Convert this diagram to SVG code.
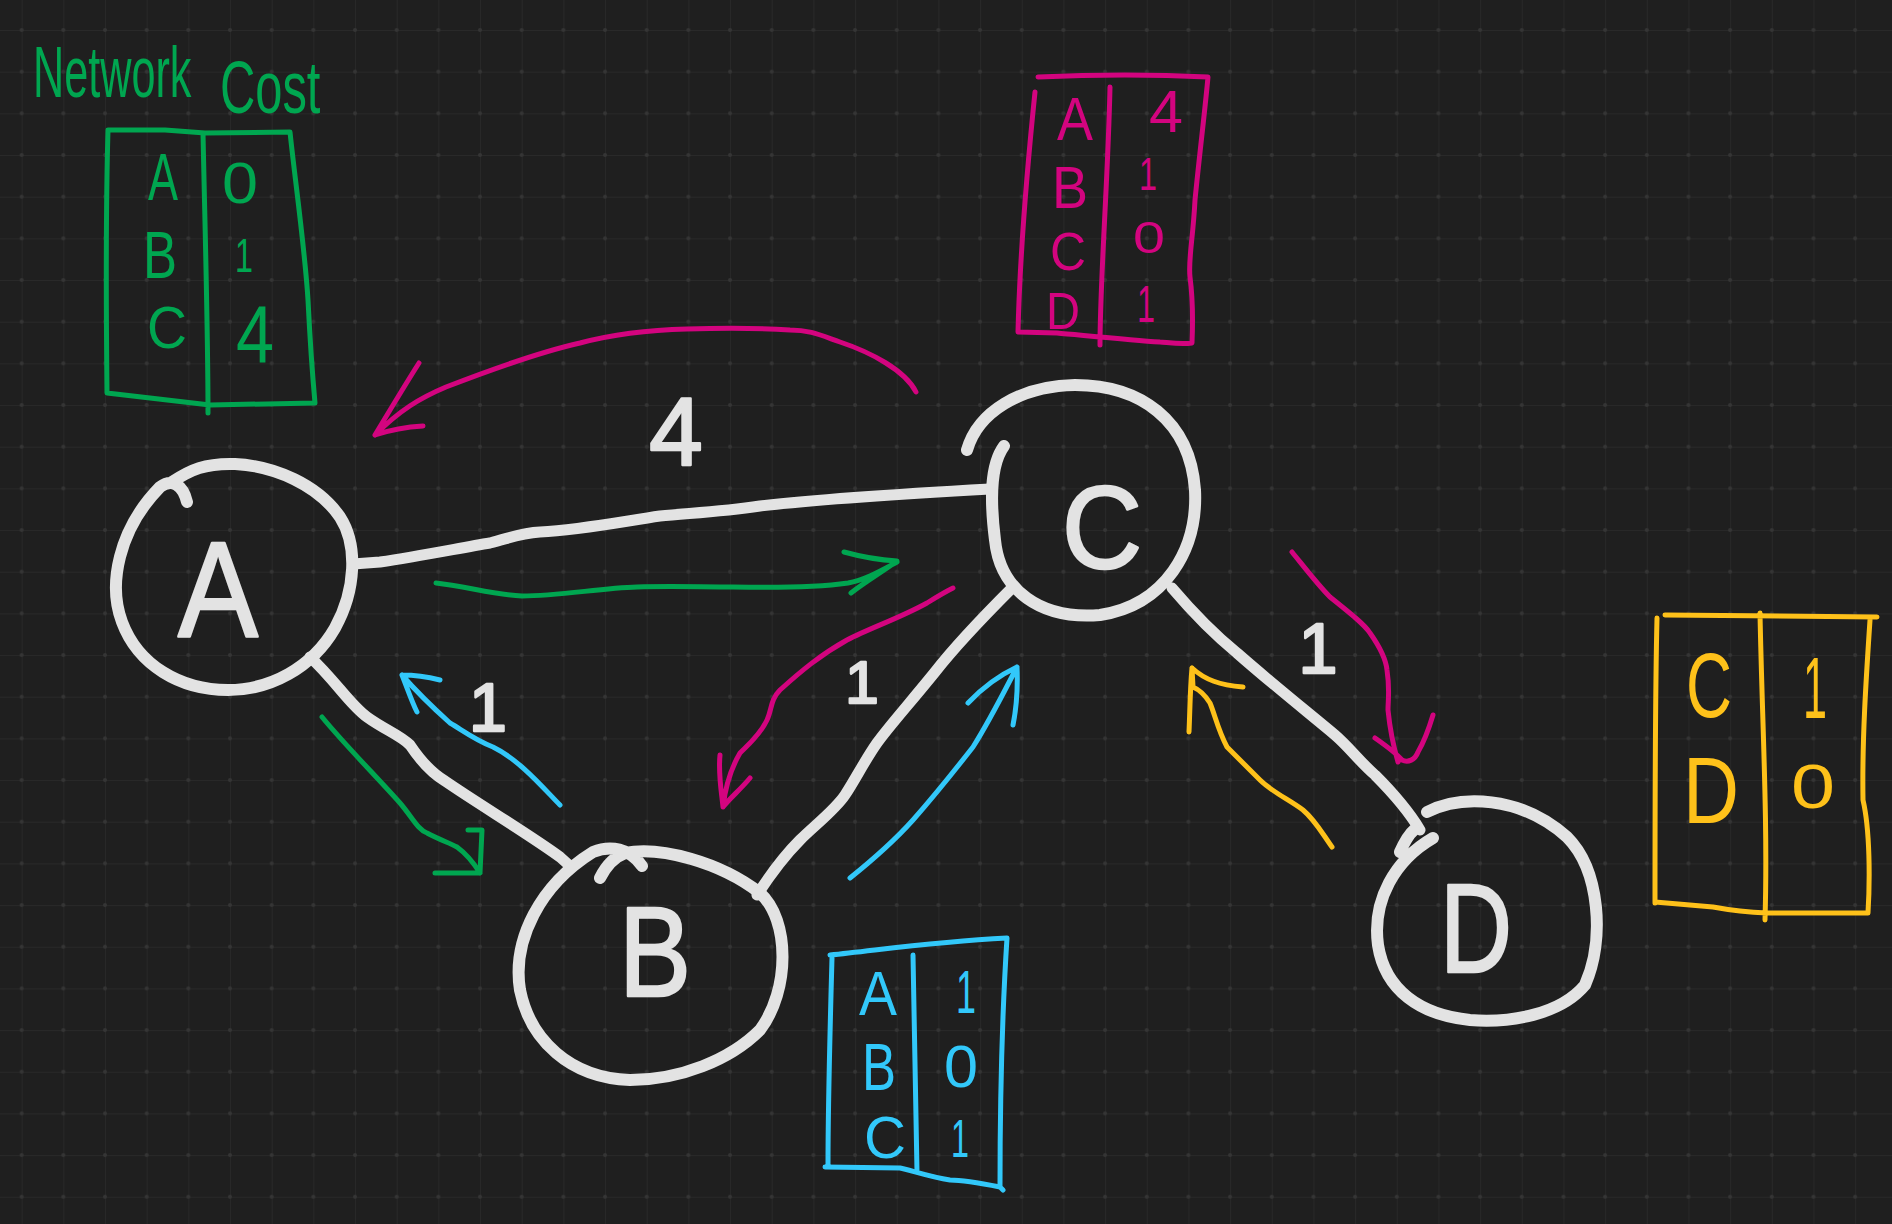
<svg xmlns="http://www.w3.org/2000/svg" width="1892" height="1224" viewBox="0 0 1892 1224">
<defs>
<pattern id="grid" patternUnits="userSpaceOnUse" x="21.67" y="30" width="41.67" height="41.67">
<path d="M0,0 H41.67 M0,0 V41.67" stroke="#2b2b2b" stroke-width="1.5" fill="none"/>
<circle cx="0" cy="0" r="2" fill="#353535"/>
<circle cx="41.67" cy="0" r="2" fill="#353535"/>
<circle cx="0" cy="41.67" r="2" fill="#353535"/>
<circle cx="41.67" cy="41.67" r="2" fill="#353535"/>
</pattern>
<style>
.w{fill:none;stroke:#e3e3e3;stroke-linecap:round;stroke-linejoin:round}
.node{stroke-width:12}
.edge{stroke-width:11}
.g{fill:none;stroke:#00a650;stroke-width:5;stroke-linecap:round;stroke-linejoin:round}
.m{fill:none;stroke:#d3047f;stroke-width:5;stroke-linecap:round;stroke-linejoin:round}
.c{fill:none;stroke:#32c8fa;stroke-width:5;stroke-linecap:round;stroke-linejoin:round}
.y{fill:none;stroke:#fec11a;stroke-width:5;stroke-linecap:round;stroke-linejoin:round}
text{font-family:"Liberation Sans",Arial,sans-serif;text-anchor:middle}
.wt{fill:#e3e3e3;stroke:#e3e3e3;stroke-width:2.5;stroke-linejoin:round}
.gt{fill:#00a650}
.mt{fill:#d3047f}
.ct{fill:#32c8fa}
.yt{fill:#fec11a}
</style>
</defs>
<rect width="1892" height="1224" fill="#1f1f1f"/>
<rect width="1892" height="1224" fill="url(#grid)"/>

<g id="title">
<text class="gt" transform="translate(33,97) scale(0.6,1)" font-size="72" style="text-anchor:start">Network</text>
<text class="gt" transform="translate(220,113) scale(0.66,1)" font-size="74" style="text-anchor:start">Cost</text>
</g>

<g id="connectors">
<path class="w edge" d="M353,564 L380,562 C420,556 460,548 490,543 C510,538 520,533 540,532 C580,530 620,522 660,516 C690,513 720,512 760,506 C820,499 900,494 990,489"/>
<path class="w edge" d="M310,657 C335,680 350,705 367,717 C385,730 400,735 410,745 C420,760 430,772 445,781 C480,805 530,835 560,857 L570,866"/>
<path class="w edge" d="M1012,588 C990,610 960,640 935,672 C910,703 890,725 877,743 C865,760 855,780 845,795 C835,810 815,825 800,840 C785,855 770,875 757,895"/>
<path class="w edge" d="M1172,588 C1195,615 1215,635 1237,653 C1270,682 1305,710 1335,735 C1350,748 1358,760 1375,775 C1395,795 1408,810 1420,830"/>
<g id="edge-labels">
<text class="wt" x="676" y="465" font-size="96">4</text>
<text class="wt" x="488" y="731" font-size="68">1</text>
<text class="wt" x="862" y="703" font-size="60">1</text>
<text class="wt" x="1318" y="673" font-size="70">1</text>
</g>
<g id="flows">
<path class="m" d="M916,392 C905,370 870,352 840,342 C820,335 810,330 790,330 C760,328 720,328 687,329 C650,330 610,335 580,343 C540,352 490,370 446,387 C420,398 400,410 375,435 M419,363 C405,385 390,410 375,435 C390,430 405,427 423,426"/>
<path class="g" d="M436,583 C465,586 495,595 522,596 C560,596 600,588 637,587 C670,586 700,587 733,587 C780,588 820,587 848,583 C865,580 882,570 897,562 M844,552 C862,557 880,560 897,561 C885,570 865,582 851,593"/>
<path class="m" d="M953,588 C945,592 935,598 927,603 C900,618 870,628 847,640 C820,655 800,672 780,690 C770,700 772,710 767,720 C760,735 748,745 740,753 C730,770 725,790 723,807 M720,755 C718,775 722,795 723,807 C730,798 740,790 750,778"/>
<path class="c" d="M850,878 C870,862 895,840 913,820 C935,795 955,770 973,747 C990,720 1005,690 1017,667 M968,703 C985,685 1000,675 1017,667 C1018,690 1016,710 1013,725"/>
<path class="c" d="M560,805 C545,790 520,760 493,747 C475,740 462,730 450,723 C430,705 415,690 402,675 M402,675 C415,675 428,677 440,680 M402,675 C408,690 412,702 417,712"/>
<path class="g" d="M322,717 C345,745 375,775 400,803 C412,817 418,830 427,833 C440,840 450,843 457,847 C468,855 475,865 480,873 M435,873 L480,873 L482,830 L468,830"/>
<path class="m" d="M1292,552 C1305,568 1318,585 1330,597 C1350,613 1365,625 1370,633 C1382,650 1386,660 1387,670 C1390,690 1388,700 1388,710 C1390,730 1393,745 1398,762 M1375,738 C1385,745 1395,752 1402,760 C1408,763 1415,760 1418,752 C1425,740 1430,725 1433,715"/>
<path class="y" d="M1332,847 C1322,833 1315,820 1303,810 C1290,800 1272,792 1260,780 C1245,765 1235,755 1227,747 C1218,730 1215,715 1210,703 C1205,695 1200,690 1193,687 L1192,668 M1192,668 C1190,690 1190,710 1189,732 M1192,668 C1205,680 1220,685 1243,687"/>
</g>
</g>

<g id="node-A">
<path class="w node" d="M172,482 C190,470 205,463 235,464 C275,466 318,485 340,517 C358,545 356,590 335,628 C312,668 270,690 228,690 C180,690 138,665 122,622 C108,585 118,530 160,487 C172,478 183,485 187,502"/>
<text class="wt" x="218" y="636" font-size="136" textLength="80" lengthAdjust="spacingAndGlyphs">A</text>
</g>
<g id="node-B">
<path class="w node" d="M600,878 C606,866 614,857 625,853 C660,846 720,862 760,893 C790,920 790,990 760,1030 C730,1060 680,1080 630,1080 C570,1078 530,1040 520,990 C512,940 540,885 593,852 C610,845 630,848 642,866"/>
<text class="wt" x="655" y="996" font-size="128" textLength="72" lengthAdjust="spacingAndGlyphs">B</text>
</g>
<g id="node-C">
<path class="w node" d="M967,450 C978,412 1020,386 1075,385 C1140,385 1190,420 1195,490 C1198,550 1165,605 1100,615 C1040,620 1000,590 995,540 C990,500 990,465 1004,446"/>
<text class="wt" x="1102" y="568" font-size="116" textLength="80" lengthAdjust="spacingAndGlyphs">C</text>
</g>
<g id="node-D">
<path class="w node" d="M1427,812 C1460,795 1520,795 1567,837 C1600,870 1605,940 1585,985 C1560,1015 1510,1023 1470,1020 C1420,1015 1385,990 1378,945 C1372,900 1395,860 1433,838 M1400,852 C1404,843 1408,835 1414,830"/>
<text class="wt" x="1476" y="972" font-size="126" textLength="72" lengthAdjust="spacingAndGlyphs">D</text>
</g>

<g id="table-A">
<path class="g" d="M108,130 L165,130 L205,133 L290,132 C295,180 305,250 308,300 C310,340 312,370 315,403 L210,405 L150,398 L107,393 C106,300 106,200 108,130 M203,133 C205,230 208,330 208,413"/>
<text class="gt" x="163" y="200" font-size="66" textLength="30" lengthAdjust="spacingAndGlyphs">A</text>
<text class="gt" x="160" y="278" font-size="66" textLength="34" lengthAdjust="spacingAndGlyphs">B</text>
<text class="gt" x="167" y="348" font-size="60" textLength="40" lengthAdjust="spacingAndGlyphs">C</text>
<text class="gt" x="240" y="203" font-size="58" textLength="36" lengthAdjust="spacingAndGlyphs">0</text>
<text class="gt" x="244" y="272" font-size="48" textLength="18" lengthAdjust="spacingAndGlyphs">1</text>
<text class="gt" x="255" y="363" font-size="82" textLength="38" lengthAdjust="spacingAndGlyphs">4</text>
</g>

<g id="table-C">
<path class="m" d="M1038,77 C1080,75 1150,74 1208,77 C1205,110 1200,150 1195,200 C1193,240 1188,260 1190,277 C1193,300 1193,320 1192,343 C1180,345 1165,342 1160,342 C1130,340 1080,335 1057,333 L1018,332 C1020,250 1028,160 1035,92 M1110,87 C1108,180 1100,280 1100,345"/>
<text class="mt" x="1075" y="140" font-size="62" textLength="36" lengthAdjust="spacingAndGlyphs">A</text>
<text class="mt" x="1070" y="208" font-size="60" textLength="36" lengthAdjust="spacingAndGlyphs">B</text>
<text class="mt" x="1068" y="270" font-size="53" textLength="36" lengthAdjust="spacingAndGlyphs">C</text>
<text class="mt" x="1063" y="329" font-size="52" textLength="34" lengthAdjust="spacingAndGlyphs">D</text>
<text class="mt" x="1166" y="132" font-size="60" textLength="34" lengthAdjust="spacingAndGlyphs">4</text>
<text class="mt" x="1148" y="190" font-size="46" textLength="18" lengthAdjust="spacingAndGlyphs">1</text>
<text class="mt" x="1149" y="253" font-size="44" textLength="32" lengthAdjust="spacingAndGlyphs">0</text>
<text class="mt" x="1146" y="322" font-size="51" textLength="18" lengthAdjust="spacingAndGlyphs">1</text>
</g>

<g id="table-B">
<path class="c" d="M830,955 C880,950 930,942 1007,938 C1003,1000 1000,1100 1000,1187 L1003,1190 M1000,1187 C980,1183 960,1180 950,1180 C930,1177 910,1170 900,1168 L825,1167 M832,958 C830,1030 828,1100 828,1165 M913,955 L917,1172"/>
<text class="ct" x="878" y="1015" font-size="63" textLength="38" lengthAdjust="spacingAndGlyphs">A</text>
<text class="ct" x="879" y="1090" font-size="66" textLength="34" lengthAdjust="spacingAndGlyphs">B</text>
<text class="ct" x="885" y="1158" font-size="59" textLength="42" lengthAdjust="spacingAndGlyphs">C</text>
<text class="ct" x="966" y="1013" font-size="62" textLength="20" lengthAdjust="spacingAndGlyphs">1</text>
<text class="ct" x="961" y="1087" font-size="60" textLength="34" lengthAdjust="spacingAndGlyphs">0</text>
<text class="ct" x="960" y="1157" font-size="54" textLength="18" lengthAdjust="spacingAndGlyphs">1</text>
</g>

<g id="table-D">
<path class="y" d="M1665,615 L1877,617 M1870,620 C1866,680 1862,740 1863,800 C1870,830 1870,880 1868,913 L1767,913 C1740,912 1713,907 1713,907 L1655,902 M1657,618 C1655,700 1655,800 1655,903 M1760,613 C1762,720 1768,820 1765,920"/>
<text class="yt" x="1709" y="717" font-size="90" textLength="46" lengthAdjust="spacingAndGlyphs">C</text>
<text class="yt" x="1711" y="823" font-size="95" textLength="56" lengthAdjust="spacingAndGlyphs">D</text>
<text class="yt" x="1815" y="718" font-size="88" textLength="24" lengthAdjust="spacingAndGlyphs">1</text>
<text class="yt" x="1813" y="808" font-size="63" textLength="44" lengthAdjust="spacingAndGlyphs">0</text>
</g>
</svg>
